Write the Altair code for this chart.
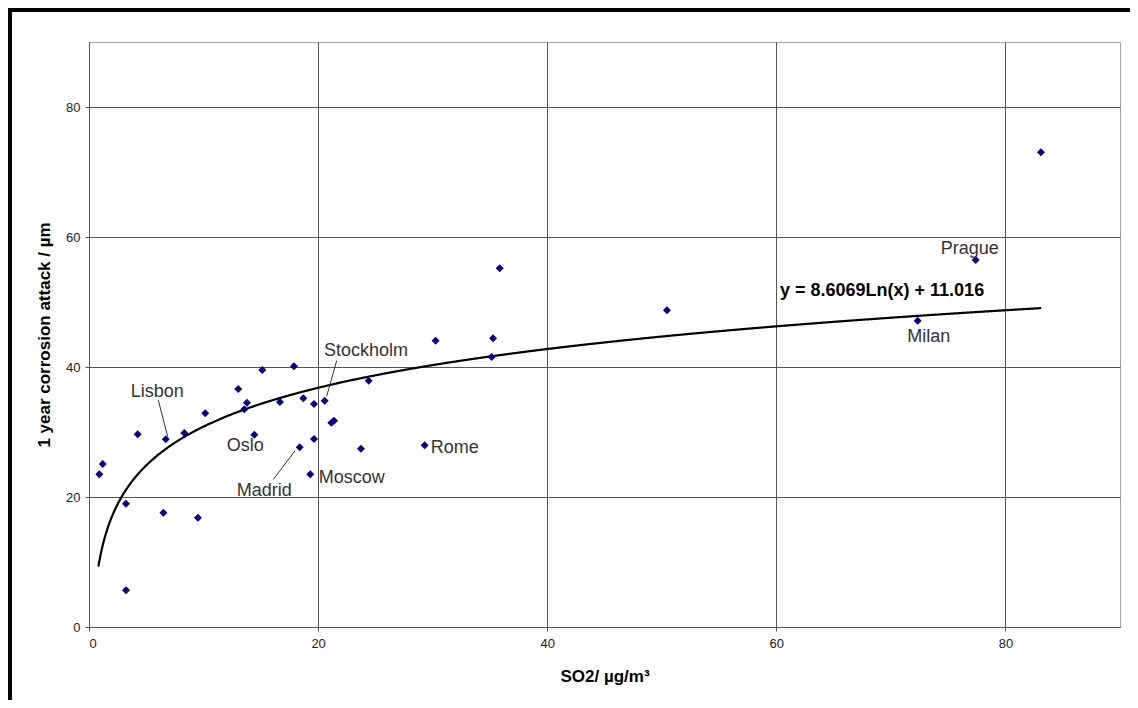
import altair as alt
import pandas as pd

# measured points
so2 = [0.90, 1.20, 3.23, 3.23, 4.25, 6.49, 6.70, 8.32, 9.51, 10.15,
       13.03, 13.79, 13.56, 14.43, 15.13, 16.67, 17.89, 18.39, 18.71, 19.64,
       19.64, 19.32, 20.57, 21.15, 21.39, 23.74, 24.41, 29.30, 30.26, 35.27,
       35.15, 35.85, 50.45, 72.34, 77.40, 83.10]
attack = [23.49, 25.08, 18.97, 5.65, 29.65, 17.58, 28.88, 29.85, 16.82, 32.88,
          36.62, 34.51, 33.49, 29.58, 39.54, 34.62, 40.11, 27.65, 35.18, 34.31,
          28.92, 23.49, 34.82, 31.43, 31.74, 27.43, 37.89, 27.95, 44.05, 44.42,
          41.54, 55.18, 48.72, 47.12, 56.46, 73.03]

# trendline equation shown on the chart
coef_a = 8.6069
coef_b = 11.016
trend_start = 0.82
trend_stop = 83.15
equation = "y = 8.6069Ln(x) + 11.016"
eq_x = [60.32]
eq_y = [50.92]

# city labels (left edge, baseline) in data units
cities = ["Stockholm", "Lisbon", "Oslo", "Madrid", "Moscow", "Rome", "Prague", "Milan"]
city_x = [20.51, 3.64, 12.02, 12.89, 20.05, 29.83, 74.35, 71.43]
city_y = [41.69, 35.34, 27.08, 20.15, 22.11, 26.72, 57.38, 43.80]

# leader lines
lead_x1 = [21.62, 6.05, 16.09]
lead_y1 = [40.97, 34.90, 22.70]
lead_x2 = [20.75, 6.87, 17.98]
lead_y2 = [35.50, 29.30, 27.10]

FONT = "Liberation Sans"

pts = pd.DataFrame({"x": so2, "y": attack})
lab = pd.DataFrame({"label": cities, "x": city_x, "y": city_y})
lead = pd.DataFrame({"x": lead_x1, "y": lead_y1, "x2": lead_x2, "y2": lead_y2})
eq = pd.DataFrame({"label": [equation], "x": eq_x, "y": eq_y})

xscale = alt.Scale(domain=[0, 90], nice=False)
yscale = alt.Scale(domain=[0, 90], nice=False)

xax = alt.Axis(values=[0, 20, 40, 60, 80], title="SO2/ µg/m³")
yax = alt.Axis(values=[0, 20, 40, 60, 80], title="1 year corrosion attack / µm")

points = alt.Chart(pts).mark_point(
    shape="diamond", filled=True, size=64, color="#000080", opacity=1
).encode(
    x=alt.X("x:Q", scale=xscale, axis=xax),
    y=alt.Y("y:Q", scale=yscale, axis=yax),
)

trend = alt.Chart(alt.sequence(trend_start, trend_stop, 0.05, as_="x")).transform_calculate(
    y=f"{coef_a} * log(datum.x) + {coef_b}"
).mark_line(color="black", strokeWidth=2.2).encode(
    x=alt.X("x:Q", scale=xscale),
    y=alt.Y("y:Q", scale=yscale),
)

leaders = alt.Chart(lead).mark_rule(color="#333333", strokeWidth=1).encode(
    x="x:Q", y="y:Q", x2="x2:Q", y2="y2:Q"
)

labels = alt.Chart(lab).mark_text(
    align="left", baseline="alphabetic", font=FONT, fontSize=18, color="#333333"
).encode(x="x:Q", y="y:Q", text="label:N")

eqtext = alt.Chart(eq).mark_text(
    align="left", baseline="alphabetic", font=FONT, fontSize=18, fontWeight="bold", color="black"
).encode(x="x:Q", y="y:Q", text="label:N")

frame = alt.Chart(pd.DataFrame({"k": [0]})).mark_rect(
    fill=None, stroke="black", strokeWidth=4, clip=False
).encode(
    x=alt.value(-79), x2=alt.value(1400), y=alt.value(-32), y2=alt.value(900)
)

chart = alt.layer(trend, points, leaders, labels, eqtext, frame).properties(
    width=1031, height=585,
    autosize=alt.AutoSizeParams(type="none"),
    padding={"left": 81, "top": 34, "right": 10, "bottom": 73},
    background="white",
).configure_view(
    stroke="#a0a0a0", strokeWidth=1
).configure_axis(
    grid=True, gridColor="#555555", gridWidth=1,
    domainColor="#555555", tickColor="#555555", tickSize=4,
    labelFont=FONT, labelFontSize=13, labelColor="#222222",
    titleFont=FONT, titleFontSize=17, titleFontWeight="bold", titleColor="black",
).configure_axisX(
    labelPadding=6, titlePadding=18
).configure_axisY(
    labelPadding=5, titlePadding=12
)

chart.save("out.html", embed_options={"renderer": "svg", "actions": False})
